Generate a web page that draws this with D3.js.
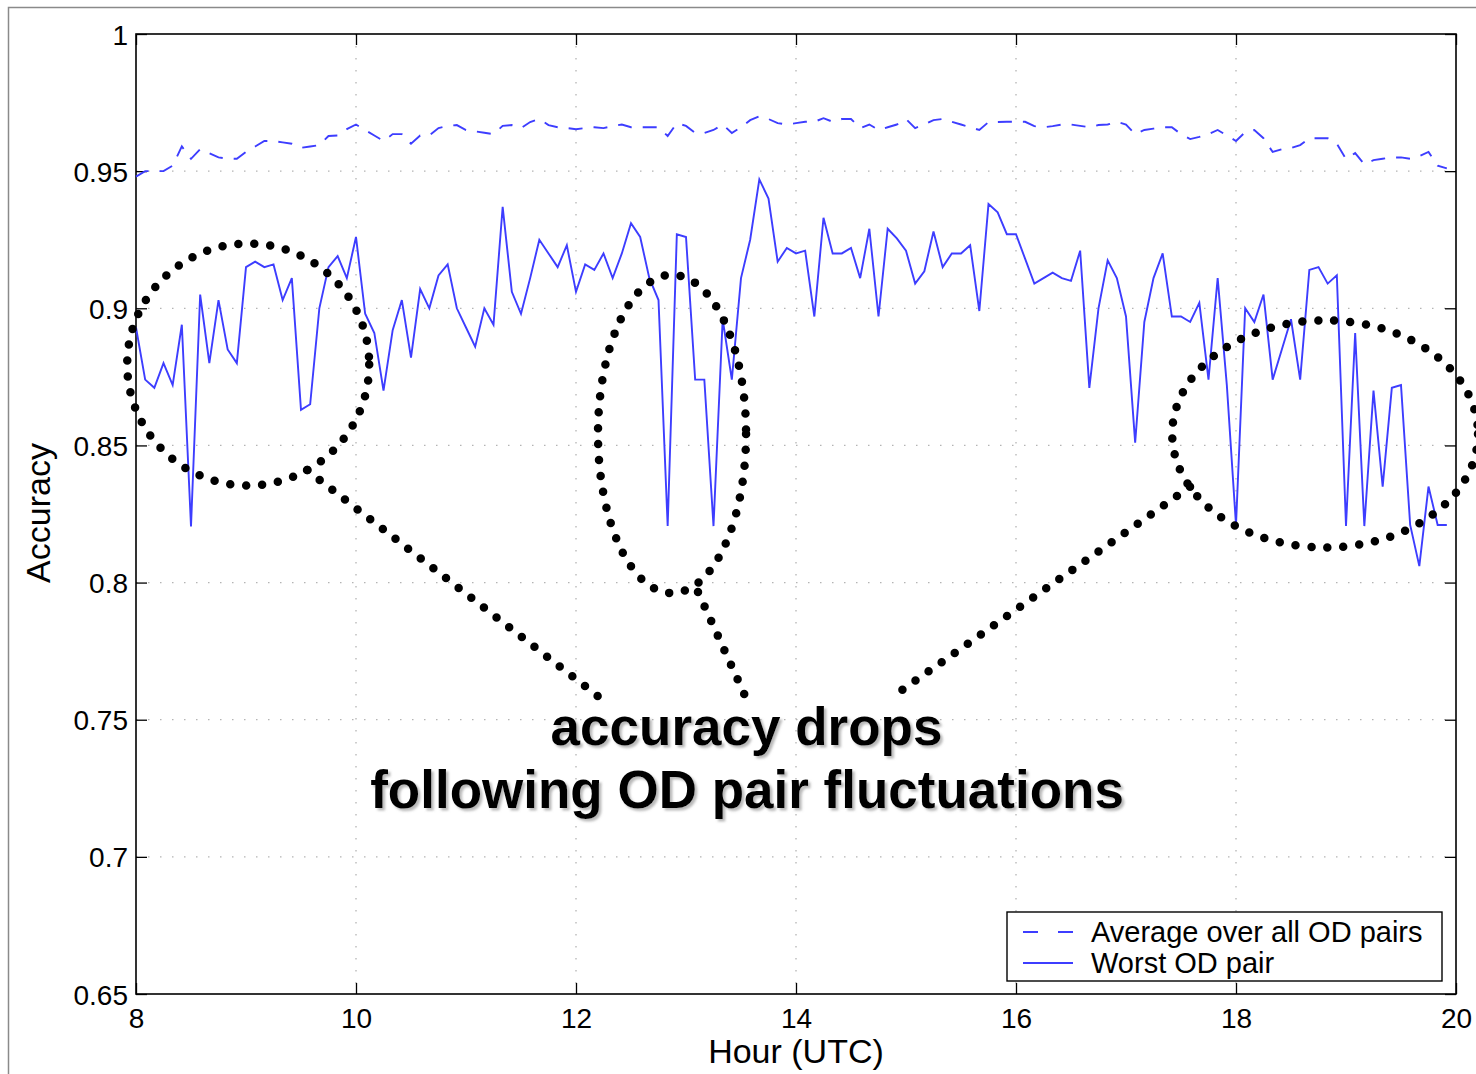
<!DOCTYPE html>
<html>
<head>
<meta charset="utf-8">
<script src="https://cdn.jsdelivr.net/npm/d3@7"></script>
<style>
  html, body { margin: 0; padding: 0; background: #fff; }
  svg { display: block; }
  text { font-family: "Liberation Sans", Arial, Helvetica, sans-serif; fill: #000; }
</style>
</head>
<body>
<svg id="chart" width="1476" height="1074"></svg>
<script>
// Accuracy sampled every 5 minutes from 08:00 to 19:55 UTC
const startHour = 8;
const sampleMinutes = 5;

const averageAccuracy = [
  0.948, 0.950, 0.950, 0.950, 0.952, 0.959, 0.9545, 0.958, 0.9565, 0.955,
  0.9545, 0.9545, 0.957, 0.959, 0.961, 0.961, 0.9605, 0.960, 0.9585, 0.959,
  0.9595, 0.9628, 0.963, 0.9653, 0.967, 0.965, 0.963, 0.961, 0.9635, 0.9635,
  0.960, 0.963, 0.963, 0.9657, 0.9665, 0.9668, 0.965, 0.9645, 0.964, 0.9635,
  0.9665, 0.9668, 0.9657, 0.9679, 0.969, 0.9668, 0.966, 0.9657, 0.9653, 0.9657,
  0.966, 0.9657, 0.9664, 0.967, 0.966, 0.966, 0.966, 0.966, 0.9628, 0.9675,
  0.9665, 0.9639, 0.9639, 0.965, 0.967, 0.9639, 0.966, 0.9686, 0.970, 0.969,
  0.9675, 0.967, 0.9675, 0.968, 0.968, 0.9693, 0.968, 0.969, 0.969, 0.9657,
  0.967, 0.965, 0.966, 0.967, 0.969, 0.9657, 0.967, 0.9686, 0.969, 0.968,
  0.967, 0.966, 0.965, 0.9679, 0.9679, 0.968, 0.968, 0.968, 0.9664, 0.966,
  0.9664, 0.967, 0.967, 0.9665, 0.966, 0.9668, 0.967, 0.968, 0.967, 0.9635,
  0.965, 0.9655, 0.966, 0.966, 0.9635, 0.9617, 0.9625, 0.9635, 0.965, 0.963,
  0.961, 0.9642, 0.965, 0.962, 0.957, 0.958, 0.9584, 0.9595, 0.962, 0.962,
  0.962, 0.960, 0.9544, 0.9566, 0.9525, 0.954, 0.9545, 0.955, 0.955, 0.9545,
  0.9555, 0.957, 0.952, 0.951
];

const worstAccuracy = [
  0.893, 0.874, 0.871, 0.880, 0.872, 0.894, 0.8205, 0.905, 0.880, 0.903,
  0.885, 0.880, 0.915, 0.917, 0.915, 0.916, 0.903, 0.911, 0.863, 0.865,
  0.900, 0.915, 0.919, 0.911, 0.926, 0.898, 0.891, 0.870, 0.892, 0.903,
  0.882, 0.907, 0.900, 0.912, 0.916, 0.900, 0.893, 0.886, 0.900, 0.894,
  0.937, 0.906, 0.898, 0.911, 0.925, 0.920, 0.915, 0.923, 0.906, 0.916,
  0.914, 0.920, 0.911, 0.920, 0.931, 0.926, 0.911, 0.903, 0.8206, 0.927,
  0.926, 0.874, 0.874, 0.8206, 0.896, 0.874, 0.911, 0.925, 0.947, 0.940,
  0.917, 0.922, 0.920, 0.921, 0.897, 0.933, 0.920, 0.920, 0.922, 0.911,
  0.929, 0.897, 0.929, 0.9255, 0.921, 0.909, 0.9135, 0.928, 0.915, 0.920,
  0.920, 0.923, 0.899, 0.938, 0.935, 0.927, 0.927, 0.918, 0.909, 0.911,
  0.913, 0.911, 0.910, 0.921, 0.871, 0.900, 0.9175, 0.911, 0.897, 0.851,
  0.895, 0.911, 0.920, 0.897, 0.897, 0.895, 0.902, 0.874, 0.911, 0.872,
  0.821, 0.900, 0.895, 0.905, 0.874, 0.885, 0.896, 0.874, 0.914, 0.915,
  0.909, 0.912, 0.8206, 0.891, 0.8206, 0.870, 0.835, 0.871, 0.872, 0.821,
  0.806, 0.835, 0.821, 0.821
];

const xTicks = [8, 10, 12, 14, 16, 18, 20];
const yTicks = [0.65, 0.7, 0.75, 0.8, 0.85, 0.9, 0.95, 1];
const yTickLabels = ["0.65", "0.7", "0.75", "0.8", "0.85", "0.9", "0.95", "1"];
const seriesNames = ["Average over all OD pairs", "Worst OD pair"];
const xTitle = "Hour (UTC)";
const yTitle = "Accuracy";
const calloutText = ["accuracy drops", "following OD pair fluctuations"];

// Callout geometry, in hours / accuracy units
const calloutEllipses = [
  { cx: 9.02, cy: 0.8795, rx: 1.10, ry: 0.0441 },
  { cx: 12.873, cy: 0.8542, rx: 0.673, ry: 0.058 },
  { cx: 18.81, cy: 0.8542, rx: 1.39, ry: 0.0414 }
];
const calloutLeaders = [
  [[9.555, 0.841], [12.218, 0.758]],
  [[13.109, 0.7966], [13.545, 0.758]],
  [[17.582, 0.8349], [14.964, 0.7608]]
];

const hours = d3.range(worstAccuracy.length).map(i => startHour + i * sampleMinutes / 60);

const svg = d3.select("#chart");
const plotLeft = 136, plotRight = 1456, plotTop = 34, plotBottom = 994;

const x = d3.scaleLinear().domain([8, 20]).range([plotLeft, plotRight]);
const y = d3.scaleLinear().domain([0.65, 1]).range([plotBottom, plotTop]);

const lineBlue = "#3d3dff";

// soft drop shadow for the callout text
const defs = svg.append("defs");
defs.append("filter").attr("id", "textShadow")
  .attr("x", "-5%").attr("y", "-20%").attr("width", "110%").attr("height", "140%")
  .append("feDropShadow")
  .attr("dx", 2.5).attr("dy", 2.5).attr("stdDeviation", 1.2)
  .attr("flood-color", "#808080").attr("flood-opacity", 0.55);

// outer figure frame
svg.append("rect")
  .attr("x", 8.5).attr("y", 7.5)
  .attr("width", 1480).attr("height", 1080)
  .attr("fill", "#fff").attr("stroke", "#8a8a8a").attr("stroke-width", 1.5);

// dotted grid
const grid = svg.append("g").attr("stroke", "#b4b4b4").attr("stroke-width", 1.3)
  .attr("stroke-dasharray", "1.5,10.5");
grid.selectAll("line.gx").data(xTicks.slice(1, -1)).join("line").attr("class", "gx")
  .attr("x1", d => x(d)).attr("x2", d => x(d)).attr("y1", plotTop).attr("y2", plotBottom);
grid.selectAll("line.gy").data(yTicks.slice(1, -1)).join("line").attr("class", "gy")
  .attr("y1", d => y(d)).attr("y2", d => y(d)).attr("x1", plotLeft).attr("x2", plotRight);

// axes with inward ticks on all four sides
const tickLen = 11;
const axisBottom = svg.append("g").attr("transform", `translate(0,${plotBottom})`)
  .call(d3.axisBottom(x).tickValues(xTicks).tickSize(-tickLen).tickFormat(d3.format("d")));
const axisTop = svg.append("g").attr("transform", `translate(0,${plotTop})`)
  .call(d3.axisTop(x).tickValues(xTicks).tickSize(-tickLen).tickFormat(""));
const axisLeft = svg.append("g").attr("transform", `translate(${plotLeft},0)`)
  .call(d3.axisLeft(y).tickValues(yTicks).tickSize(-tickLen)
    .tickFormat((d, i) => yTickLabels[i]));
const axisRight = svg.append("g").attr("transform", `translate(${plotRight},0)`)
  .call(d3.axisRight(y).tickValues(yTicks).tickSize(-tickLen).tickFormat(""));

[axisBottom, axisTop, axisLeft, axisRight].forEach(g => {
  g.select(".domain").remove();
  g.selectAll(".tick line").attr("stroke", "#000").attr("stroke-width", 1.3);
  g.selectAll("text").attr("font-size", 28).attr("font-family", "Liberation Sans, Arial, sans-serif").attr("fill", "#000");
});
axisBottom.selectAll("text").attr("dy", 0).attr("y", 34);
axisLeft.selectAll("text").attr("x", -8).attr("dy", "0.36em");

// plot box
svg.append("rect")
  .attr("x", plotLeft).attr("y", plotTop).attr("width", plotRight - plotLeft).attr("height", plotBottom - plotTop)
  .attr("fill", "none").attr("stroke", "#000").attr("stroke-width", 1.6);

// series
const line = d3.line().x((d, i) => x(hours[i])).y(d => y(d));
svg.append("path").datum(averageAccuracy)
  .attr("d", line).attr("fill", "none").attr("stroke", lineBlue)
  .attr("stroke-width", 1.9).attr("stroke-dasharray", "14,11");
svg.append("path").datum(worstAccuracy)
  .attr("d", line).attr("fill", "none").attr("stroke", lineBlue)
  .attr("stroke-width", 1.9).attr("stroke-linejoin", "miter");

// axis titles
svg.append("text").attr("x", 796).attr("y", 1063).attr("text-anchor", "middle")
  .attr("font-size", 34).text(xTitle);
svg.append("text").attr("transform", "translate(50,513) rotate(-90)").attr("text-anchor", "middle")
  .attr("font-size", 34).text(yTitle);

// legend
const legend = svg.append("g");
legend.append("rect").attr("x", 1007).attr("y", 912).attr("width", 435).attr("height", 69)
  .attr("fill", "#fff").attr("stroke", "#000").attr("stroke-width", 1.4);
legend.append("line").attr("x1", 1023).attr("x2", 1073).attr("y1", 932).attr("y2", 932)
  .attr("stroke", lineBlue).attr("stroke-width", 1.9).attr("stroke-dasharray", "15,20");
legend.append("line").attr("x1", 1023).attr("x2", 1073).attr("y1", 963).attr("y2", 963)
  .attr("stroke", lineBlue).attr("stroke-width", 1.9);
legend.selectAll("text.lbl").data(seriesNames).join("text").attr("class", "lbl")
  .attr("x", 1091).attr("y", (d, i) => 942 + i * 31)
  .attr("font-size", 29).text(d => d);

// callout: dotted ellipses and leader lines
const dots = svg.append("g").attr("fill", "none").attr("stroke", "#000")
  .attr("stroke-width", 8.5).attr("stroke-linecap", "round").attr("stroke-dasharray", "0,16");
dots.selectAll("ellipse").data(calloutEllipses).join("ellipse")
  .attr("cx", d => x(d.cx)).attr("cy", d => y(d.cy))
  .attr("rx", d => x(8 + d.rx) - x(8)).attr("ry", d => y(0.65) - y(0.65 + d.ry));
dots.selectAll("path").data(calloutLeaders).join("path")
  .attr("d", d => d3.line().x(p => x(p[0])).y(p => y(p[1]))(d));

// callout text with soft shadow
const textPos = [[13.55, 0.7408], [13.555, 0.7178]];
svg.append("g").attr("text-anchor", "middle").attr("font-weight", "bold").attr("font-size", 53)
  .attr("filter", "url(#textShadow)")
  .selectAll("text").data(calloutText).join("text")
  .attr("x", (d, i) => x(textPos[i][0])).attr("y", (d, i) => y(textPos[i][1]))
  .attr("fill", "#000").text(d => d);
</script>
</body>
</html>
